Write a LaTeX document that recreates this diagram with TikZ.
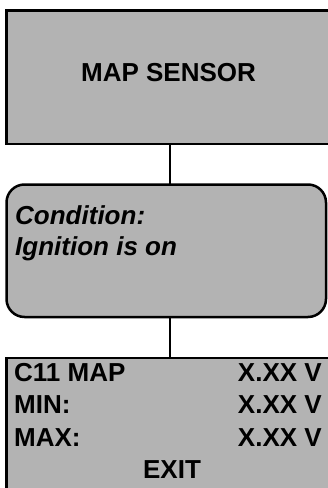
\documentclass[tikz,border=0pt]{standalone}
\usepackage{fontspec}
\setmainfont{Liberation Sans}
\usepackage{xcolor}
\definecolor{panel-fill}{HTML}{B3B3B3}
\definecolor{panel-border}{HTML}{000000}
\usepackage{tikz}
\usetikzlibrary{
  positioning,
  calc
}

\begin{document}
\begin{tikzpicture}[
    x=1pt, y=1pt,
    panel/.style={
      rectangle,
      draw=panel-border,
      fill=panel-fill,
      line width=2.5pt,
      outer sep=0pt,
      inner sep=0pt
    },
    roundpanel/.style={
      panel,
      rounded corners=18pt
    },
    caption/.style={
      inner sep=0pt,
      font=\fontsize{26}{31}\selectfont\bfseries,
      text=black
    },
    note/.style={
      caption,
      anchor=base west,
      font=\fontsize{26}{31}\selectfont\bfseries\itshape
    },
    link/.style={
      line width=2.5pt,
      color=panel-border
    }
  ]
    \useasboundingbox (0,0) rectangle (328,-488);
    \clip (0,0) rectangle (328,-488);

    \node[panel, minimum width=324.5pt, minimum height=133.5pt] (sensor) at (168.75,-77.25) {};
    \node[roundpanel, minimum width=319.5pt, minimum height=132.5pt] (cond) at (166.25,-250.75) {};
    \node[panel, minimum width=324.5pt, minimum height=162pt] (readout) at (168.75,-439) {};

    % texts
    \node[caption] (sensortxt) at (168.5,-72.5) {MAP SENSOR};
    \node[note] (condtitle) at (15,-224) {Condition:};
    \node[note] (condline) at (15,-255) {Ignition is on};
    \node[caption, anchor=base west] (mapname) at (14,-381) {C11 MAP};
    \node[caption, anchor=base west] (minname) at (14,-413.5) {MIN:};
    \node[caption, anchor=base west] (maxname) at (14,-446) {MAX:};
    \node[caption, anchor=base east] (mapval) at (322,-381) {X.XX V};
    \node[caption, anchor=base east] (minval) at (322,-413.5) {X.XX V};
    \node[caption, anchor=base east] (maxval) at (322,-446) {X.XX V};
    \node[caption, anchor=base] (exit) at (172,-478.5) {EXIT};

    % sensor -> condition
    \draw[link] ([xshift=1.25pt]sensor.south) -- ([xshift=1.25pt]sensor.south |- cond.north);
    % condition -> readout
    \draw[link] ([xshift=1.25pt]sensor.south |- cond.south) -- ([xshift=1.25pt]sensor.south |- readout.north);
  \end{tikzpicture}
\end{document}
